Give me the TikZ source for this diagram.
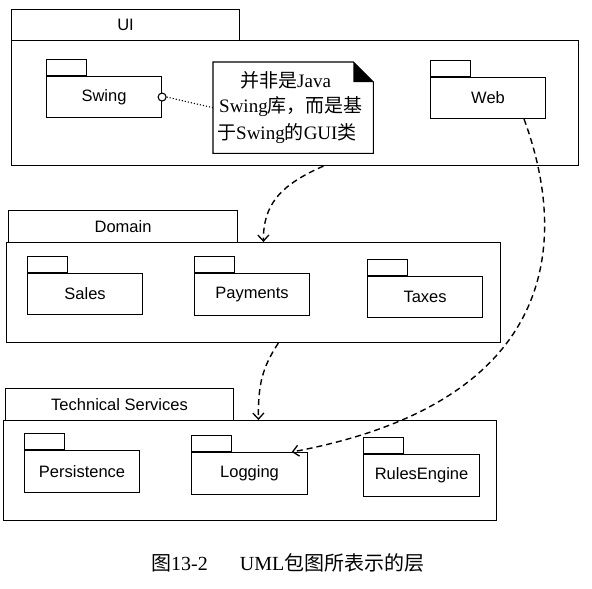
\documentclass[tikz,border=0pt]{standalone}
\usepackage{fontspec}
\setmainfont{Liberation Serif}
\setsansfont{Liberation Sans}
\newfontfamily\cjk{Noto Sans CJK SC}
\usetikzlibrary{arrows.meta,calc}
\tikzset{
  box/.style={draw, line width=1.1pt, inner sep=0pt, anchor=north west},
  tabbox/.style={box, minimum width=40pt, minimum height=16pt, anchor=south west},
  subpkg/.style={box, minimum width=115pt, minimum height=41pt, font=\sffamily\fontsize{16.5}{18}\selectfont},
  toptab/.style={box, minimum height=31pt, font=\sffamily\fontsize{16.5}{18}\selectfont},
  dep/.style={line width=1.4pt, dash pattern=on 6pt off 4pt, -{Straight Barb[length=6pt,width=11pt,line width=1.3pt]}},
  notetext/.style={inner sep=0pt, anchor=west, font=\fontsize{19}{22}\selectfont}
}
\begin{document}
\begin{tikzpicture}[x=1pt,y=-1pt]
\useasboundingbox (0,0) rectangle (592,589);
% UI layer
\node[toptab, minimum width=228pt] (uitab) at (11,9) {UI};
\node[box, minimum width=567pt, minimum height=125pt] (ui) at (11,40) {};
\node[subpkg] (swing) at (46,76) {Swing};
\node[tabbox] (swingtab) at (swing.north west) {};
\node[subpkg] (web) at (430,77) {Web};
\node[tabbox] (webtab) at (web.north west) {};
% note
\node[inner sep=0pt, minimum width=160pt, minimum height=91pt, anchor=north west] (note) at (213,62) {};
\draw[line width=1.1pt] (note.north west) -- ([xshift=-20pt]note.north east) -- ([yshift=-20pt]note.north east) -- (note.south east) -- (note.south west) -- cycle;
\fill ([xshift=-20pt]note.north east) -- ([xshift=-20pt,yshift=-20pt]note.north east) -- ([yshift=-20pt]note.north east) -- cycle;
\node[notetext] (n1) at (240,80) {{\cjk 并非是}Java};
\node[notetext] (n2) at (219,107) {Swing{\cjk 库，而是基}};
\node[notetext] (n3) at (217,134) {{\cjk 于}Swing{\cjk 的}GUI{\cjk 类}};
\node[draw, circle, line width=1.1pt, fill=white, minimum size=8pt, inner sep=0pt] (lolly) at (swing.east) {};
\draw[line width=1.1pt, dotted] (lolly.east) -- (note.west);
% Domain layer
\node[toptab, minimum width=229pt, minimum height=32pt] (domtab) at (8,210) {Domain};
\node[box, minimum width=494pt, minimum height=100pt] (dom) at (6,242) {};
\node[subpkg] (sales) at (27,273) {Sales};
\node[tabbox] (salestab) at (sales.north west) {};
\node[subpkg, minimum height=42pt] (pay) at (194,273) {Payments};
\node[tabbox] (paytab) at (pay.north west) {};
\node[subpkg] (taxes) at (367,276) {Taxes};
\node[tabbox] (taxestab) at (taxes.north west) {};
% Technical services layer
\node[toptab, minimum width=228pt, minimum height=32pt] (tstab) at (5,388) {Technical Services};
\node[box, minimum width=493pt, minimum height=100pt] (ts) at (3,420) {};
\node[subpkg, minimum height=42pt] (pers) at (24,450) {Persistence};
\node[tabbox] (perstab) at (pers.north west) {};
\node[subpkg, minimum width=116pt, minimum height=42pt] (log) at (191,452) {Logging};
\node[tabbox] (logtab) at (log.north west) {};
\node[subpkg, minimum width=116pt, minimum height=42pt] (rules) at (363,454) {RulesEngine};
\node[tabbox] (rulestab) at (rules.north west) {};
% dependencies
\draw[dep] ($(ui.south west)!0.55!(ui.south east)$) .. controls (280,185) and (263,205) .. ($(dom.north west)!0.52!(dom.north east)$);
\draw[dep] ($(dom.south west)!0.55!(dom.south east)$) .. controls (262,368) and (258,385) .. ($(ts.north west)!0.517!(ts.north east)$);
\draw[dep] ($(web.south west)!0.81!(web.south east)$) .. controls (565,230) and (570,400) .. ($(log.north west)!0.86!(log.north east)$);
% caption
\node[inner sep=0pt, anchor=west, font=\fontsize{20}{24}\selectfont] (cap) at (151,563) {{\cjk 图}13-2\hspace{1.6em}UML{\cjk 包图所表示的层}};
\end{tikzpicture}
\end{document}
